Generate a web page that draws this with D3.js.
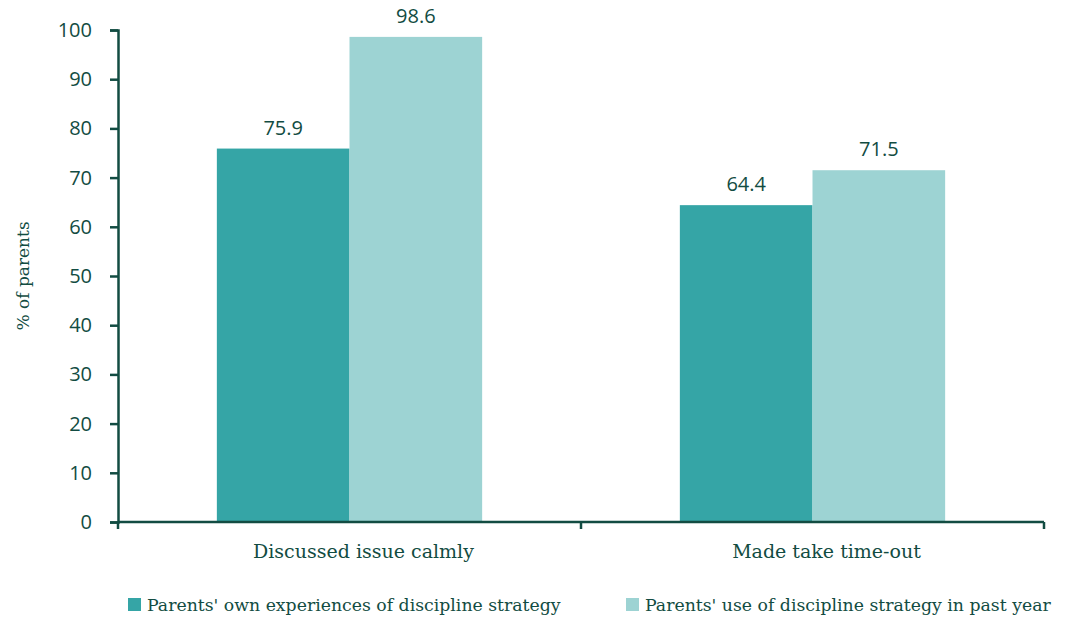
<!DOCTYPE html>
<html>
<head>
<meta charset="utf-8">
<script src="https://cdn.jsdelivr.net/npm/d3@7"></script>
<style>
  body { margin: 0; background: #fff; }
  .serif { font-family: "DejaVu Serif", serif; }
  .sans { font-family: "Open Sans", "Noto Sans", sans-serif; }
</style>
</head>
<body>
<svg id="chart" width="1066" height="621"></svg>
<script>
const categories = ["Discussed issue calmly", "Made take time-out"];
const seriesNames = ["Parents' own experiences of discipline strategy", "Parents' use of discipline strategy in past year"];
const ownExperience = [75.9, 64.4];
const pastYearUse = [98.6, 71.5];
const yTicks = [0, 10, 20, 30, 40, 50, 60, 70, 80, 90, 100];

const colors = ["#35a5a6", "#9dd3d3"];
const ink = "#124c42";

const svg = d3.select("#chart");
const margin = { top: 30, right: 22, bottom: 99, left: 118 };
const width = 1066, height = 621;
const innerWidth = width - margin.left - margin.right;
const innerHeight = height - margin.top - margin.bottom;

const data = categories.map((c, i) => ({ cat: c, values: [ownExperience[i], pastYearUse[i]] }));

const x0 = d3.scaleBand().domain(categories).range([0, innerWidth])
    .paddingInner(0.427).paddingOuter(0.2135);
const x1 = d3.scaleBand().domain([0, 1]).range([0, x0.bandwidth()]);
const y = d3.scaleLinear().domain([0, 100]).range([innerHeight, 0]);

const g = svg.append("g").attr("transform", `translate(${margin.left},${margin.top})`);

// bars
const groups = g.selectAll(".group").data(data).enter().append("g")
    .attr("transform", d => `translate(${x0(d.cat)},0)`);

groups.selectAll("rect").data(d => d.values).enter().append("rect")
    .attr("x", (d, i) => x1(i))
    .attr("y", d => y(d))
    .attr("width", x1.bandwidth())
    .attr("height", d => innerHeight - y(d))
    .attr("fill", (d, i) => colors[i]);

groups.selectAll(".val").data(d => d.values).enter().append("text")
    .attr("class", "sans")
    .attr("x", (d, i) => x1(i) + x1.bandwidth() / 2)
    .attr("y", d => y(d) - 14)
    .attr("text-anchor", "middle")
    .attr("font-size", 20)
    .attr("fill", ink)
    .text(d => d.toFixed(1));

// y axis
const yAxis = g.append("g")
    .call(d3.axisLeft(y).tickValues(yTicks).tickSize(8).tickPadding(18));
yAxis.select(".domain").attr("stroke", ink).attr("stroke-width", 2.5);
yAxis.selectAll(".tick line").attr("stroke", ink).attr("stroke-width", 2.5);
yAxis.selectAll(".tick text").attr("class", "sans").attr("font-size", 20).attr("fill", ink);

// x axis with ticks at category boundaries
const xAxisG = g.append("g").attr("transform", `translate(0,${innerHeight})`);
xAxisG.append("line")
    .attr("x1", 0).attr("x2", innerWidth)
    .attr("stroke", ink).attr("stroke-width", 2.5);
const bounds = [0, innerWidth / 2, innerWidth];
xAxisG.selectAll(".bt").data(bounds).enter().append("line")
    .attr("x1", d => d).attr("x2", d => d)
    .attr("y1", 0).attr("y2", 7)
    .attr("stroke", ink).attr("stroke-width", 2.5);
xAxisG.selectAll(".cat").data(categories).enter().append("text")
    .attr("class", "serif")
    .attr("x", d => x0(d) + x0.bandwidth() / 2 + 14)
    .attr("y", 36)
    .attr("text-anchor", "middle")
    .attr("font-size", 19)
    .attr("fill", ink)
    .text(d => d);

// y title
svg.append("text")
    .attr("class", "serif")
    .attr("transform", `translate(29,${margin.top + innerHeight / 2}) rotate(-90)`)
    .attr("text-anchor", "middle")
    .attr("font-size", 17)
    .attr("fill", ink)
    .text("% of parents");

// legend
const legendX = [128, 626];
const legend = svg.selectAll(".legend").data(seriesNames).enter().append("g")
    .attr("transform", (d, i) => `translate(${legendX[i]},598)`);
legend.append("rect").attr("width", 13).attr("height", 13).attr("fill", (d, i) => colors[i]);
legend.append("text")
    .attr("class", "serif")
    .attr("x", 19).attr("y", 13)
    .attr("font-size", 17.3)
    .attr("fill", ink)
    .text(d => d);
</script>
</body>
</html>
